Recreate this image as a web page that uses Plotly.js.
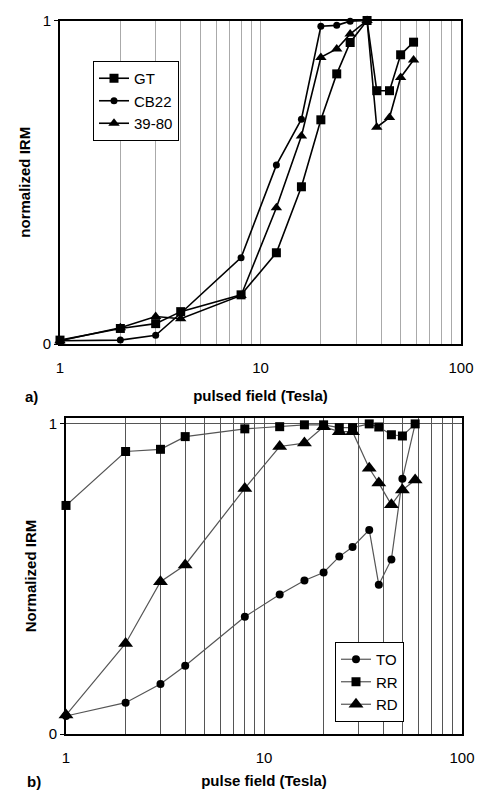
<!DOCTYPE html>
<html>
<head>
<meta charset="utf-8">
<script src="https://cdn.plot.ly/plotly-3.0.1.min.js"></script>
<style>html,body{margin:0;padding:0;background:#fff;}#chart{width:480px;height:791px;}</style>
</head>
<body>
<div id="chart"></div>
<script>
// Panel a data
var fieldA = [1, 2, 3, 4, 8, 12, 16, 20, 24, 28, 34, 38, 44, 50, 58];
var gtA =    [0.012, 0.048, 0.063, 0.10, 0.152, 0.282, 0.486, 0.693, 0.835, 0.932, 1.0, 0.783, 0.783, 0.894, 0.933];
var fieldCB = [1, 2, 3, 4, 8, 12, 16, 20, 24, 28, 34];
var cb22A =  [0.010, 0.012, 0.027, 0.095, 0.267, 0.553, 0.695, 0.982, 0.985, 0.998, 1.0];
var s3980A = [0.010, 0.050, 0.085, 0.078, 0.150, 0.421, 0.643, 0.886, 0.912, 0.958, 1.0, 0.670, 0.700, 0.824, 0.878];

// Panel b data
var fieldB = [1, 2, 3, 4, 8, 12, 16, 20, 24, 28, 34, 38, 44, 50, 58];
var toB = [0.058, 0.101, 0.161, 0.220, 0.378, 0.450, 0.495, 0.521, 0.572, 0.603, 0.658, 0.481, 0.563, 0.823, 1.0];
var rrB = [0.737, 0.911, 0.918, 0.959, 0.984, 0.991, 0.997, 0.997, 0.988, 0.988, 1.0, 0.990, 0.965, 0.961, 1.0];
var rdB = [0.061, 0.292, 0.491, 0.545, 0.792, 0.927, 0.938, 0.991, 0.975, 0.975, 0.857, 0.809, 0.739, 0.787, 0.819];

// tick labels
var xTickVals = [1,2,3,4,5,6,7,8,9,10,20,30,40,50,60,70,80,90,100];
var xTickText = ['1','','','','','','','','','10','','','','','','','','','100'];
var yTickVals = [0, 1];
var yTickText = ['0', '1'];

var FONT = 'Liberation Sans, Arial, sans-serif';

function tr(x, y, name, sym, size, color, width, xa, ya, leg) {
  return {
    x: x, y: y, name: name, type: 'scatter', mode: 'lines+markers',
    xaxis: xa, yaxis: ya, legend: leg, cliponaxis: false,
    line: {color: color, width: width},
    marker: {symbol: sym, size: size, color: '#000'}
  };
}

var data = [
  tr(fieldA, gtA, 'GT', 'square', 9, '#000', 1.6, 'x', 'y', 'legend'),
  tr(fieldCB, cb22A, 'CB22', 'circle', 7, '#000', 1.6, 'x', 'y', 'legend'),
  tr(fieldA, s3980A, '39-80', 'triangle-up', 10, '#000', 1.6, 'x', 'y', 'legend'),
  tr(fieldB, toB, 'TO', 'circle', 8, '#555', 1.2, 'x2', 'y2', 'legend2'),
  tr(fieldB, rrB, 'RR', 'square', 9, '#555', 1.2, 'x2', 'y2', 'legend2'),
  tr(fieldB, rdB, 'RD', 'triangle-up', 13, '#555', 1.2, 'x2', 'y2', 'legend2')
];

function xaxis(domain, anchor, title, grid, standoff) {
  return {
    type: 'log', range: [0, 2], domain: domain, anchor: anchor,
    tickmode: 'array', tickvals: xTickVals, ticktext: xTickText,
    showgrid: true, gridcolor: grid, gridwidth: 1,
    showline: true, linecolor: '#000', linewidth: 2, mirror: true,
    ticks: '', zeroline: false, ticklabelstandoff: 9,
    tickfont: {family: FONT, size: 15, color: '#000'},
    title: {text: title, font: {family: FONT, size: 15, color: '#000', weight: 'bold'}, standoff: standoff}
  };
}
function yaxis(domain, anchor, range, title, grid) {
  return {
    range: range, domain: domain, anchor: anchor,
    tickmode: 'array', tickvals: yTickVals, ticktext: yTickText,
    showgrid: true, gridcolor: grid, gridwidth: 1,
    showline: true, linecolor: '#000', linewidth: 2, mirror: true,
    ticks: 'outside', ticklen: 4, tickcolor: '#000', zeroline: false,
    tickfont: {family: FONT, size: 15, color: '#000'},
    title: {text: title, font: {family: FONT, size: 15, color: '#000', weight: 'bold'}, standoff: 8}
  };
}

var layout = {
  width: 480, height: 791,
  margin: {l: 0, r: 0, t: 0, b: 0},
  paper_bgcolor: '#fff', plot_bgcolor: '#fff',
  showlegend: true,
  font: {family: FONT, color: '#000'},
  xaxis: xaxis([60/480, 461/480], 'y', 'pulsed field (Tesla)', '#aaa', 15),
  yaxis: yaxis([1 - 344/791, 1 - 20.5/791], 'x', [0, 1], 'normalized IRM', '#aaa'),
  xaxis2: xaxis([66/480, 462/480], 'y2', 'pulse field (Tesla)', '#555', 10),
  yaxis2: yaxis([1 - 734/791, 1 - 418/791], 'x2', [0, 1.019], 'Normalized IRM', '#555'),
  legend: {
    x: 93/480, y: 1 - 61/791, xanchor: 'left', yanchor: 'top',
    bgcolor: '#fff', bordercolor: '#000', borderwidth: 1, itemwidth: 30,
    font: {family: FONT, size: 15, color: '#000'}, tracegroupgap: 0
  },
  legend2: {
    x: 335/480, y: 1 - 642/791, xanchor: 'left', yanchor: 'top',
    bgcolor: '#fff', bordercolor: '#000', borderwidth: 1, itemwidth: 30,
    font: {family: FONT, size: 15, color: '#000'}, tracegroupgap: 0
  },
  annotations: [
    {text: '<b>a)</b>', x: 23/480, y: 1 - 396/791, xref: 'paper', yref: 'paper', xanchor: 'left', yanchor: 'middle', showarrow: false, font: {family: FONT, size: 15, color: '#000'}},
    {text: '<b>b)</b>', x: 25/480, y: 1 - 781/791, xref: 'paper', yref: 'paper', xanchor: 'left', yanchor: 'middle', showarrow: false, font: {family: FONT, size: 15, color: '#000'}}
  ]
};

Plotly.newPlot('chart', data, layout, {displayModeBar: false, staticPlot: true});
</script>
</body>
</html>
